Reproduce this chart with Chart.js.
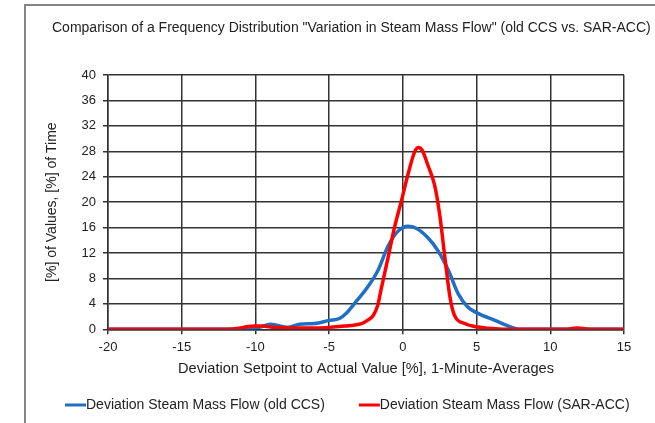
<!DOCTYPE html>
<html>
<head>
<meta charset="utf-8">
<script src="https://cdn.jsdelivr.net/npm/chart.js@4"></script>
<style>
  body { margin: 0; background: #fff; }
  #wrap { position: relative; width: 655px; height: 423px; overflow: hidden; }
  #frame { position: absolute; left: 24px; top: 4px; width: 700px; height: 500px;
    border-left: 2px solid #858585; border-top: 2px solid #858585; pointer-events: none; }
</style>
</head>
<body>
<div id="wrap">
  <canvas id="freqChart" width="655" height="423"></canvas>
  <div id="frame"></div>
</div>
<script>
const chartTitle = 'Comparison of a Frequency Distribution "Variation in Steam Mass Flow" (old CCS vs. SAR-ACC)';
const xTitle = "Deviation Setpoint to Actual Value [%], 1-Minute-Averages";
const yTitle = "[%] of Values, [%] of Time";

// old CCS
const oldX = [-20, -10.3, -9.6, -9.0, -8.5, -7.9, -7.3, -7.0, -6.0, -5.0, -4.3, -3.8, -3.3, -2.4, -1.7, -1.0, -0.34, 0.34, 0.9, 1.7, 2.4, 3.1, 3.75, 4.4, 5.1, 6.25, 7.4, 7.9, 15];
const oldY = [0, 0, 0.4, 0.8, 0.6, 0.3, 0.6, 0.8, 0.9, 1.4, 1.7, 2.6, 4.0, 6.6, 9.2, 13.1, 15.4, 16.2, 15.9, 14.4, 12.3, 9.2, 5.6, 3.5, 2.5, 1.4, 0.3, 0, 0];

// SAR-ACC
const sarX = [-20, -12, -11, -10.5, -10, -9.5, -9, -8, -6, -5, -4, -3.5, -2.8, -2.4, -2.0, -1.7, -1.5, -1.0, -0.57, -0.11, 0.34, 0.8, 1.05, 1.3, 1.7, 2.15, 2.5, 2.85, 3.2, 3.5, 4.2, 5.1, 6.5, 8, 11, 11.8, 12.5, 13, 15];
const sarY = [0, 0, 0.2, 0.45, 0.5, 0.5, 0.35, 0.25, 0.2, 0.3, 0.5, 0.6, 0.9, 1.4, 2.2, 3.8, 6, 11.3, 16, 20.1, 24.3, 27.9, 28.6, 28.2, 25.8, 22.7, 18, 11.3, 5, 2.2, 0.9, 0.35, 0.05, 0, 0, 0.2, 0.05, 0, 0];

function toPoints(xs, ys) {
  return xs.map((x, i) => ({ x: x, y: ys[i] }));
}

const fontFamily = "'Liberation Sans', Arial, sans-serif";
const gridColor = "#333";
const textColor = "#222";

// legend drawn as a short line followed directly by the text
const lineLegend = {
  id: "lineLegend",
  afterDraw(chart) {
    const ctx = chart.ctx;
    let x = 65;
    const y = 405;
    ctx.save();
    ctx.font = "14px " + fontFamily;
    ctx.textBaseline = "middle";
    chart.data.datasets.forEach((ds) => {
      ctx.strokeStyle = ds.borderColor;
      ctx.lineWidth = 3;
      ctx.beginPath();
      ctx.moveTo(x, y);
      ctx.lineTo(x + 21, y);
      ctx.stroke();
      ctx.fillStyle = textColor;
      ctx.fillText(ds.label, x + 21, y);
      x += 21 + ctx.measureText(ds.label).width + 34;
    });
    ctx.restore();
  },
};

new Chart(document.getElementById("freqChart"), {
  type: "line",
  data: {
    datasets: [
      {
        label: "Deviation Steam Mass Flow (old CCS)",
        data: toPoints(oldX, oldY),
        borderColor: "#1f6fc5",
        borderWidth: 3.5,
        pointRadius: 0,
        cubicInterpolationMode: "monotone",
        order: 2,
      },
      {
        label: "Deviation Steam Mass Flow (SAR-ACC)",
        data: toPoints(sarX, sarY),
        borderColor: "#ff0000",
        borderWidth: 3.5,
        pointRadius: 0,
        cubicInterpolationMode: "monotone",
        order: 1,
      },
    ],
  },
  plugins: [lineLegend],
  options: {
    responsive: false,
    animation: false,
    layout: { padding: { left: 52, right: 0, top: 20, bottom: 45.6 } },
    plugins: {
      title: {
        display: true,
        text: chartTitle,
        align: "start",
        color: textColor,
        font: { family: fontFamily, size: 14, weight: "normal" },
        padding: { top: 0, bottom: 38.2 },
      },
      legend: { display: false },
      tooltip: { enabled: false },
    },
    scales: {
      x: {
        type: "linear",
        min: -20,
        max: 15,
        ticks: { stepSize: 5, color: textColor, font: { family: fontFamily, size: 13 }, padding: 5 },
        grid: { color: gridColor, lineWidth: 1.5, tickLength: 5 },
        border: { color: gridColor, width: 1.5 },
        title: { display: true, text: xTitle, color: textColor, font: { family: fontFamily, size: 14.6 }, padding: { top: 0, bottom: 0 } },
        afterFit: function (scale) {
          // keep the plot's right edge at x = 624
          scale.paddingRight = 31;
        },
      },
      y: {
        min: 0,
        max: 40,
        ticks: { stepSize: 4, color: textColor, font: { family: fontFamily, size: 13 }, padding: 7 },
        grid: { color: gridColor, lineWidth: 1.5, tickLength: 5 },
        border: { color: gridColor, width: 1.5 },
        title: { display: true, text: yTitle, color: textColor, font: { family: fontFamily, size: 14 }, padding: { top: -8, bottom: 0 } },
        afterFit: function (scale) {
          scale.width = 56;
        },
      },
    },
  },
});
</script>
</body>
</html>
